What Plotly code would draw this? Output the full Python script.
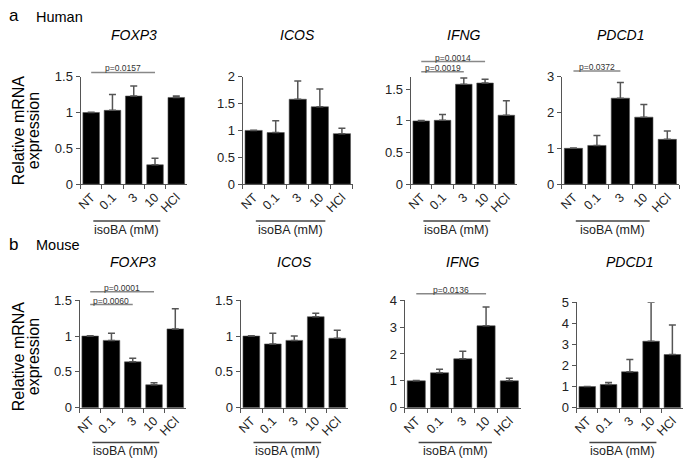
import plotly.graph_objects as go

W, H = 685, 467

categories = ["NT", "0.1", "3", "10", "HCl"]
genes = ["FOXP3", "ICOS", "IFNG", "PDCD1"]

# Human (a)
human_foxp3 = [1.00, 1.03, 1.23, 0.27, 1.21]
human_foxp3_err = [0.005, 0.22, 0.14, 0.09, 0.02]
human_icos = [1.00, 0.96, 1.58, 1.44, 0.94]
human_icos_err = [0.005, 0.22, 0.34, 0.33, 0.10]
human_ifng = [1.00, 1.01, 1.58, 1.60, 1.09]
human_ifng_err = [0.005, 0.09, 0.10, 0.06, 0.23]
human_pdcd1 = [1.00, 1.08, 2.40, 1.87, 1.25]
human_pdcd1_err = [0.01, 0.28, 0.44, 0.35, 0.23]

# Mouse (b)
mouse_foxp3 = [1.00, 0.94, 0.64, 0.32, 1.10]
mouse_foxp3_err = [0.005, 0.10, 0.05, 0.03, 0.28]
mouse_icos = [1.00, 0.89, 0.94, 1.27, 0.97]
mouse_icos_err = [0.005, 0.15, 0.06, 0.05, 0.11]
mouse_ifng = [1.00, 1.30, 1.82, 3.05, 1.00]
mouse_ifng_err = [0.01, 0.13, 0.28, 0.70, 0.10]
mouse_pdcd1 = [1.00, 1.10, 1.70, 3.15, 2.52]
mouse_pdcd1_err = [0.01, 0.10, 0.58, 1.85, 1.40]

# axis ranges and tick steps
y_tops = [1.5, 2.0, 1.7, 3.0, 1.5, 1.5, 4.0, 5.0]
y_dticks = [0.5, 0.5, 0.5, 1, 0.5, 0.5, 1, 1]

# significance comparisons: (panel, from, to, label, height in data units)
sig = [
    (0, "NT", "10", "p=0.0157", 1.56),
    (2, "NT", "10", "p=0.0014", 1.94),
    (2, "NT", "3", "p=0.0019", 1.78),
    (3, "NT", "3", "p=0.0372", 3.16),
    (4, "NT", "10", "p=0.0001", 1.62),
    (4, "NT", "3", "p=0.0060", 1.44),
    (6, "NT", "10", "p=0.0136", 4.24),
]

values = [human_foxp3, human_icos, human_ifng, human_pdcd1,
          mouse_foxp3, mouse_icos, mouse_ifng, mouse_pdcd1]
errors = [human_foxp3_err, human_icos_err, human_ifng_err, human_pdcd1_err,
          mouse_foxp3_err, mouse_icos_err, mouse_ifng_err, mouse_pdcd1_err]

# pixel boxes of each plotting area: (x0, x1, ytop, ybottom)
boxes = [
    (77, 184, 72, 183), (240, 351, 72, 183), (409, 516, 72, 183), (561, 679, 72, 183),
    (76, 183, 303, 414), (238, 346, 303, 414), (403, 520, 303, 414), (576, 683, 305, 414),
]

def px(x):
    return x / W

def py(y):
    return 1 - y / H

FONT = "Liberation Sans, Arial, sans-serif"
fig = go.Figure()
layout = dict(
    width=W, height=H, margin=dict(l=0, r=0, t=0, b=0),
    paper_bgcolor="white", plot_bgcolor="white", showlegend=False,
    font=dict(family=FONT, color="#222"), bargap=0.22,
)
shapes = []
annotations = []

for i in range(8):
    n = "" if i == 0 else str(i + 1)
    x0, x1, yt, yb = boxes[i]
    fig.add_trace(go.Bar(
        x=categories, y=values[i], xaxis="x" + n, yaxis="y" + n,
        marker=dict(color="black", line=dict(color="#555", width=0.6)),
        error_y=dict(type="data", array=errors[i], arrayminus=[0] * 5, symmetric=False,
                     color="#555", thickness=1.5, width=3.5),
    ))
    layout["xaxis" + n] = dict(
        domain=[px(x0), px(x1)], anchor="y" + n, type="category",
        range=[-0.5, 4.5], showline=True, linecolor="#555", linewidth=1,
        ticks="outside", tickson="boundaries", ticklen=4, tickcolor="#555",
        tickangle=-45, tickfont=dict(size=12.5, color="#222"), showgrid=False, zeroline=False,
    )
    layout["yaxis" + n] = dict(
        domain=[py(yb), py(yt)], anchor="x" + n, range=[0, y_tops[i]],
        dtick=y_dticks[i], tick0=0, showline=True, linecolor="#555", linewidth=1,
        ticks="outside", ticklen=4, tickcolor="#555",
        tickfont=dict(size=13, color="#222"), showgrid=False, zeroline=False,
    )
    # gene title
    annotations.append(dict(
        text="<i>%s</i>" % genes[i % 4], x=px((x0 + x1) / 2), y=py(29 if i < 4 else 263),
        xref="paper", yref="paper", showarrow=False, xanchor="center", yanchor="middle",
        font=dict(size=14, color="black"),
    ))
    # isoBA bracket
    ly = 221 if i < 4 else 450
    ty = 230 if i < 4 else 459
    shapes.append(dict(type="line", xref="x%s domain" % n, yref="paper",
                       x0=0.12, x1=0.75, y0=py(ly), y1=py(ly),
                       line=dict(color="#444", width=1.5)))
    annotations.append(dict(
        text="isoBA (mM)", xref="x%s domain" % n, yref="paper", x=0.435, y=py(ty),
        showarrow=False, xanchor="center", yanchor="middle", font=dict(size=12.5, color="#222"),
    ))

for (p, a, b, label, h) in sig:
    n = "" if p == 0 else str(p + 1)
    xa = (categories.index(a) + 0.5) / len(categories)
    xb = (categories.index(b) + 0.5) / len(categories)
    yd = h / y_tops[p]
    shapes.append(dict(type="line", xref="x%s domain" % n, yref="y%s domain" % n,
                       x0=xa, x1=xb, y0=yd, y1=yd, line=dict(color="#888", width=1.5)))
    annotations.append(dict(
        text=label, xref="x%s domain" % n, yref="y%s domain" % n, x=(xa + xb) / 2, y=yd,
        showarrow=False, xanchor="center", yanchor="bottom", yshift=-2, borderpad=0,
        font=dict(size=8.5, color="#333"),
    ))

# y-axis titles (first column)
for cy in (127.5, 361):
    annotations.append(dict(text="Relative mRNA", x=px(14), y=py(cy), xref="paper", yref="paper",
                            showarrow=False, textangle=-90, font=dict(size=16, color="black"),
                            xanchor="center", yanchor="middle"))
    annotations.append(dict(text="expression", x=px(30), y=py(cy), xref="paper", yref="paper",
                            showarrow=False, textangle=-90, font=dict(size=16, color="black"),
                            xanchor="center", yanchor="middle"))

# panel labels
for lab, name, y in (("a", "Human", 9), ("b", "Mouse", 245)):
    annotations.append(dict(text=lab, x=px(3), y=py(y), xref="paper", yref="paper", showarrow=False,
                            xanchor="left", yanchor="middle", font=dict(size=17, color="black")))
    annotations.append(dict(text=name, x=px(30), y=py(y + 1), xref="paper", yref="paper", showarrow=False,
                            xanchor="left", yanchor="middle", font=dict(size=14.5, color="black")))

layout["shapes"] = shapes
layout["annotations"] = annotations
fig.update_layout(**layout)
fig.write_html("out.html", config={"displayModeBar": False},
               post_script="document.body.style.margin='0px';document.body.style.overflow='hidden';")
